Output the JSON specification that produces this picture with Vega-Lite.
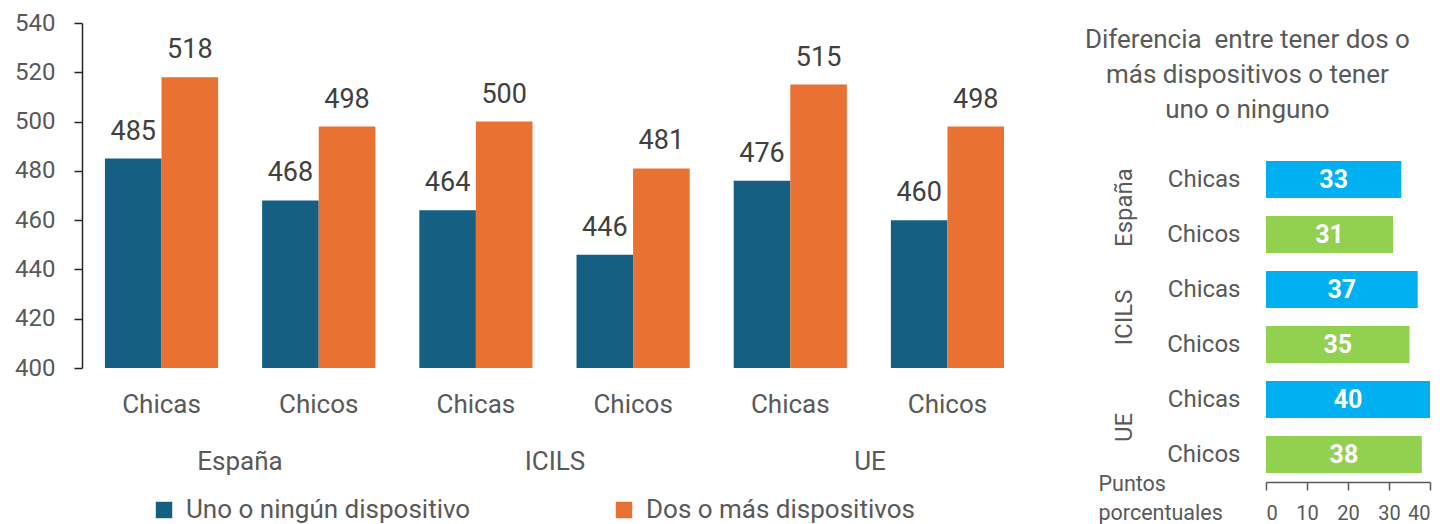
{
  "$schema": "https://vega.github.io/schema/vega-lite/v6.json",
  "background": "white",
  "padding": {"left": 14, "top": 11, "right": 5, "bottom": 0},
  "config": {
    "view": {"stroke": null},
    "font": "Roboto",
    "axis": {"labelColor": "#595959", "labelFont": "Roboto", "titleFont": "Roboto", "titleColor": "#595959", "grid": false},
    "legend": {"labelFont": "Roboto"},
    "title": {"font": "Roboto"}
  },
  "datasets": {
    "puntuaciones": [
      {"pais": "España", "sexo": "Chicas", "cat": "España-Chicas", "serie": "Uno o ningún dispositivo", "valor": 485},
      {"pais": "España", "sexo": "Chicas", "cat": "España-Chicas", "serie": "Dos o más dispositivos", "valor": 518},
      {"pais": "España", "sexo": "Chicos", "cat": "España-Chicos", "serie": "Uno o ningún dispositivo", "valor": 468},
      {"pais": "España", "sexo": "Chicos", "cat": "España-Chicos", "serie": "Dos o más dispositivos", "valor": 498},
      {"pais": "ICILS", "sexo": "Chicas", "cat": "ICILS-Chicas", "serie": "Uno o ningún dispositivo", "valor": 464},
      {"pais": "ICILS", "sexo": "Chicas", "cat": "ICILS-Chicas", "serie": "Dos o más dispositivos", "valor": 500},
      {"pais": "ICILS", "sexo": "Chicos", "cat": "ICILS-Chicos", "serie": "Uno o ningún dispositivo", "valor": 446},
      {"pais": "ICILS", "sexo": "Chicos", "cat": "ICILS-Chicos", "serie": "Dos o más dispositivos", "valor": 481},
      {"pais": "UE", "sexo": "Chicas", "cat": "UE-Chicas", "serie": "Uno o ningún dispositivo", "valor": 476},
      {"pais": "UE", "sexo": "Chicas", "cat": "UE-Chicas", "serie": "Dos o más dispositivos", "valor": 515},
      {"pais": "UE", "sexo": "Chicos", "cat": "UE-Chicos", "serie": "Uno o ningún dispositivo", "valor": 460},
      {"pais": "UE", "sexo": "Chicos", "cat": "UE-Chicos", "serie": "Dos o más dispositivos", "valor": 498}
    ],
    "diferencias": [
      {"pais": "España", "sexo": "Chicas", "cat": "España-Chicas", "dif": 33},
      {"pais": "España", "sexo": "Chicos", "cat": "España-Chicos", "dif": 31},
      {"pais": "ICILS", "sexo": "Chicas", "cat": "ICILS-Chicas", "dif": 37},
      {"pais": "ICILS", "sexo": "Chicos", "cat": "ICILS-Chicos", "dif": 35},
      {"pais": "UE", "sexo": "Chicas", "cat": "UE-Chicas", "dif": 40},
      {"pais": "UE", "sexo": "Chicos", "cat": "UE-Chicos", "dif": 38}
    ]
  },
  "spacing": 57,
  "hconcat": [
    {
      "width": 945,
      "height": 345,
      "data": {"name": "puntuaciones"},
      "layer": [
        {
          "mark": {"type": "bar"},
          "encoding": {
            "x": {"field": "cat", "type": "nominal", "sort": null,
                  "scale": {"paddingInner": 0.28, "paddingOuter": 0.146},
                  "axis": {"orient": "bottom", "title": null, "domain": false, "ticks": false, "tickSize": 0, "labelPadding": 23, "labelFontSize": 26, "labelAngle": 0, "labelExpr": "split(datum.label, '-')[1]"}},
            "xOffset": {"field": "serie", "type": "nominal", "sort": null, "scale": {"domain": ["Uno o ningún dispositivo", "Dos o más dispositivos"]}},
            "y": {"field": "valor", "type": "quantitative",
                  "scale": {"domain": [400, 540], "nice": false, "zero": false},
                  "axis": {"title": null, "values": [400, 420, 440, 460, 480, 500, 520, 540], "domain": true, "domainColor": "#262626", "domainWidth": 1.5, "ticks": true, "tickColor": "#262626", "tickWidth": 1.5, "tickSize": 8, "labelPadding": 19, "labelFontSize": 24}},
            "y2": {"datum": 400},
            "color": {"field": "serie", "type": "nominal",
                      "scale": {"domain": ["Uno o ningún dispositivo", "Dos o más dispositivos"], "range": ["#156082", "#E97132"]},
                      "legend": {"orient": "none", "legendX": 69, "legendY": 474, "direction": "horizontal", "title": null, "padding": 0, "symbolType": "square", "symbolSize": 270, "symbolStrokeWidth": 0, "labelFontSize": 26, "labelColor": "#595959", "labelOffset": 9, "columnPadding": 140, "labelLimit": 500}}
          }
        },
        {
          "mark": {"type": "text", "baseline": "alphabetic", "dy": -19, "fontSize": 27, "color": "#404040"},
          "encoding": {
            "x": {"field": "cat", "type": "nominal", "sort": null, "scale": {"paddingInner": 0.28, "paddingOuter": 0.146}, "axis": null},
            "xOffset": {"field": "serie", "type": "nominal", "sort": null, "scale": {"domain": ["Uno o ningún dispositivo", "Dos o más dispositivos"]}},
            "y": {"field": "valor", "type": "quantitative"},
            "text": {"field": "valor", "type": "quantitative"}
          }
        },
        {
          "mark": {"type": "point", "opacity": 0},
          "encoding": {
            "x": {"field": "pais", "type": "nominal", "sort": null,
                  "scale": {"type": "point", "padding": 0.5},
                  "axis": {"orient": "bottom", "title": null, "domain": false, "ticks": false, "tickSize": 0, "labelPadding": 10, "offset": 70, "labelFontSize": 26, "labelAngle": 0}}
          }
        }
      ],
      "resolve": {"scale": {"x": "independent", "xOffset": "independent"}, "axis": {"x": "independent"}}
    },
    {
      "width": 164,
      "height": 459,
      "data": {"name": "diferencias"},
      "title": {"text": ["Diferencia\u00a0 entre tener dos o", "más dispositivos o tener", "uno o ninguno"], "orient": "top", "anchor": "middle", "frame": "bounds", "offset": -100, "fontSize": 26, "fontWeight": "normal", "color": "#595959", "lineHeight": 35, "dx": -17},
      "layer": [
        {
          "mark": {"type": "bar"},
          "encoding": {
            "y": {"field": "cat", "type": "nominal", "sort": null,
                  "scale": {"range": [129, 459], "paddingInner": 0.33, "paddingOuter": 0.165},
                  "axis": {"orient": "left", "title": null, "domain": false, "ticks": false, "tickSize": 0, "labelPadding": 26, "labelFontSize": 24, "labelExpr": "split(datum.label, '-')[1]"}},
            "x": {"field": "dif", "type": "quantitative",
                  "scale": {"domain": [0, 40], "nice": false},
                  "axis": {"values": [0, 10, 20, 30, 40], "domain": true, "domainColor": "#595959", "domainWidth": 1.5, "ticks": true, "tickColor": "#595959", "tickWidth": 1.5, "tickSize": 8, "labelPadding": 13, "labelFontSize": 20,
                           "title": ["Puntos", "porcentuales"], "titleFontSize": 21.5, "titleFontWeight": "normal", "titleAnchor": "start", "titleAlign": "left", "titleBaseline": "top", "titleX": -168, "titleY": -9, "titleLineHeight": 29, "titleAngle": 0}},
            "color": {"field": "sexo", "type": "nominal", "scale": {"domain": ["Chicas", "Chicos"], "range": ["#00B0F0", "#92D050"]}, "legend": null}
          }
        },
        {
          "mark": {"type": "text", "color": "white", "fontWeight": "bold", "fontSize": 25, "baseline": "middle", "align": "center"},
          "encoding": {
            "y": {"field": "cat", "type": "nominal", "sort": null,
                  "scale": {"range": [129, 459], "paddingInner": 0.33, "paddingOuter": 0.165}, "axis": null},
            "x": {"field": "dif", "type": "quantitative", "scale": {"domain": [0, 80], "nice": false}, "axis": null},
            "text": {"field": "dif", "type": "quantitative"}
          }
        },
        {
          "mark": {"type": "point", "opacity": 0},
          "encoding": {
            "y": {"field": "pais", "type": "nominal", "sort": null,
                  "scale": {"type": "point", "padding": 0.5, "range": [129, 459]},
                  "axis": {"orient": "left", "title": null, "domain": false, "ticks": false, "tickSize": 0, "labelPadding": 0, "offset": 130, "labelAngle": 270, "labelFontSize": 24}}
          }
        }
      ],
      "resolve": {"scale": {"y": "independent", "x": "independent"}, "axis": {"y": "independent", "x": "independent"}}
    }
  ],
  "resolve": {"scale": {"color": "independent"}, "legend": {"color": "independent"}}
}
